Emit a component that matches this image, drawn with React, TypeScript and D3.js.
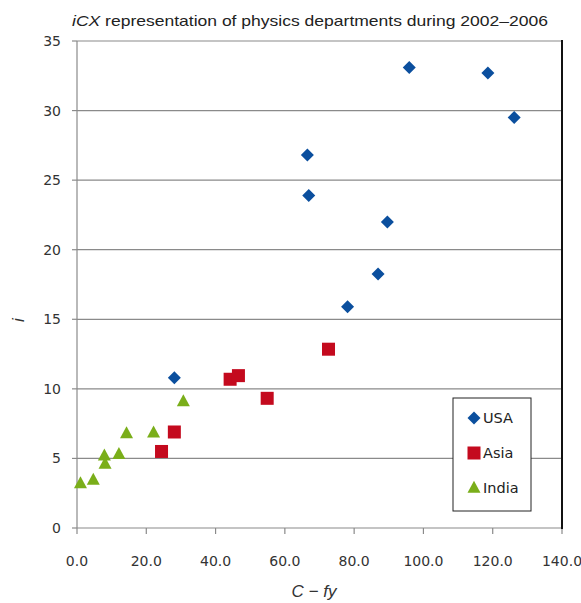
import React from "react";
import * as d3 from "d3";

const usaX = [28.1, 66.5, 66.9, 95.9, 118.6, 126.2, 89.6, 86.9, 78.1];
const usaY = [10.8, 26.8, 23.9, 33.1, 32.7, 29.5, 22.0, 18.25, 15.9];
const asiaX = [24.4, 28.1, 44.2, 46.6, 54.9, 72.6];
const asiaY = [5.5, 6.9, 10.69, 10.95, 9.32, 12.85];
const indiaX = [1.0, 4.7, 7.9, 8.1, 12.1, 14.3, 22.1, 30.7];
const indiaY = [3.2, 3.45, 5.2, 4.6, 5.3, 6.8, 6.85, 9.1];
const xTicks = [0, 20, 40, 60, 80, 100, 120, 140];
const yTicks = [0, 5, 10, 15, 20, 25, 30, 35];
const seriesNames = ["USA", "Asia", "India"];
const seriesColors = ["#0b4f9e", "#c40a1e", "#7aae1a"];

const W = 581, H = 603;
const L = 77, R = 562, T = 41, B = 528;

function marker(kind: number, cx: number, cy: number, color: string, key: string) {
  if (kind === 0) {
    const r = 6.5;
    return <path key={key} d={`M${cx},${cy - r}L${cx + r},${cy}L${cx},${cy + r}L${cx - r},${cy}Z`} fill={color} />;
  }
  if (kind === 1) {
    const s = 6.5;
    return <rect key={key} x={cx - s} y={cy - s} width={2 * s} height={2 * s} fill={color} />;
  }
  const w = 6.5, h = 12;
  return <path key={key} d={`M${cx},${cy - h * 0.6}L${cx + w},${cy + h * 0.4}L${cx - w},${cy + h * 0.4}Z`} fill={color} />;
}

export default function App() {
  const x = d3.scaleLinear().domain([0, 140]).range([L, R]);
  const y = d3.scaleLinear().domain([0, 35]).range([B, T]);
  const series = [
    { xs: usaX, ys: usaY },
    { xs: asiaX, ys: asiaY },
    { xs: indiaX, ys: indiaY },
  ];
  const tickFont = "DejaVu Sans, sans-serif";
  return (
    <svg width={W} height={H} style={{ position: "absolute", left: 0, top: 0, background: "#fff" }}>
      <rect x={0} y={0} width={W} height={H} fill="#fff" />
      <text x={72} y={26} textLength={476} lengthAdjust="spacingAndGlyphs" fontFamily="Liberation Sans, Arial, sans-serif" fontSize={14.5} fill="#222">
        <tspan fontStyle="italic">iCX</tspan> representation of physics departments during 2002–2006
      </text>
      {yTicks.map((t) => (
        <g key={"y" + t}>
          {t > 0 && <line x1={L} x2={R} y1={y(t)} y2={y(t)} stroke="#8a8a8a" strokeWidth={1.2} />}
          <line x1={L - 5} x2={L} y1={y(t)} y2={y(t)} stroke="#8a8a8a" strokeWidth={1.2} />
          <text x={61} y={y(t) + 5} textAnchor="end" fontFamily={tickFont} fontSize={14} fill="#333">{t}</text>
        </g>
      ))}
      {xTicks.map((t) => (
        <g key={"x" + t}>
          <line x1={x(t)} x2={x(t)} y1={B} y2={B + 6} stroke="#8a8a8a" strokeWidth={1.2} />
          <text x={x(t)} y={566} textAnchor="middle" fontFamily={tickFont} fontSize={14} fill="#333">{t.toFixed(1)}</text>
        </g>
      ))}
      <line x1={L} x2={L} y1={T} y2={B} stroke="#8a8a8a" strokeWidth={1.2} />
      <line x1={L} x2={R} y1={B} y2={B} stroke="#8a8a8a" strokeWidth={1.2} />
      <line x1={R} x2={R} y1={T - 1} y2={B + 1} stroke="#111" strokeWidth={2} />
      {series.map((s, si) => (
        <g key={"s" + si}>
          {s.xs.map((v, i) => marker(si, x(v), y(s.ys[i]), seriesColors[si], `m${si}-${i}`))}
        </g>
      ))}
      <rect x={453} y={398} width={78} height={113} fill="#fff" stroke="#222" strokeWidth={1} />
      {seriesNames.map((n, i) => (
        <g key={"l" + n}>
          {marker(i, 474, 418 + i * 35, seriesColors[i], "lm" + i)}
          <text x={483} y={418 + i * 35 + 5} fontFamily={tickFont} fontSize={14.5} fill="#222">{n}</text>
        </g>
      ))}
      <text x={314} y={597} textAnchor="middle" fontFamily="Liberation Sans, Arial, sans-serif" fontStyle="italic" fontSize={17} fill="#333">C − fy</text>
      <text transform="translate(24,320) rotate(-90)" textAnchor="middle" fontFamily="Liberation Sans, Arial, sans-serif" fontStyle="italic" fontSize={17} fill="#333">i</text>
    </svg>
  );
}
